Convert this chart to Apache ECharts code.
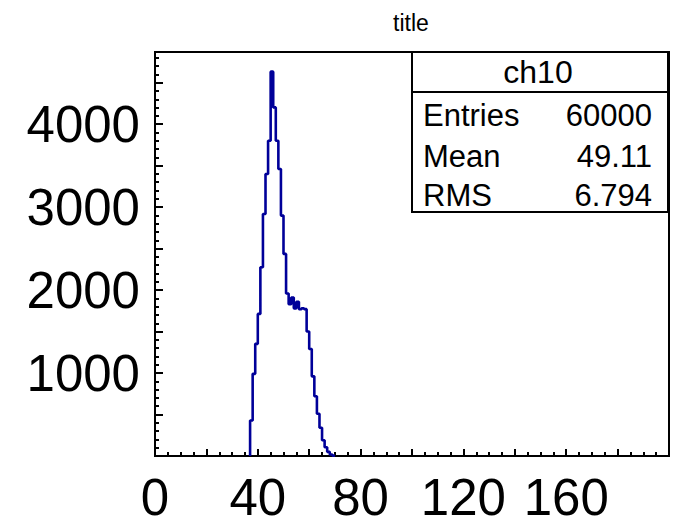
<!DOCTYPE html>
<html><head><meta charset="utf-8">
<script src="https://cdn.jsdelivr.net/npm/echarts@6/dist/echarts.min.js"></script>
<style>html,body{margin:0;padding:0;background:#fff}#c{width:687px;height:527px}</style>
</head><body><div id="c"></div>
<script>
// ---- data ----
const chartTitle = 'title';
const histName = 'ch10';
const firstBin = 37;      // low edge of first non-empty bin
const binWidth = 1;
const counts = [428, 990, 1352, 1713, 2275, 2918, 3400, 3801, 4633,
  4202, 3801, 3460, 2898, 2436, 1958, 1830, 1910, 1780, 1860, 1770, 1780, 1770,
  1500, 1290, 960, 720, 510, 340, 190, 105, 50, 18, 5];
const xLabelValues = [0, 40, 80, 120, 160];
const yLabelValues = [1000, 2000, 3000, 4000];
const statLabels = ['Entries', 'Mean', 'RMS'];
const statValues = ['60000', '49.11', '6.794'];

// ---- build step points ----
const pts = [[firstBin, 0]];
counts.forEach((c, i) => pts.push([firstBin + i * binWidth, c]));
pts.push([firstBin + counts.length * binWidth, 0]);

const FONT = '"Liberation Sans", Arial, Helvetica, sans-serif';
const chart = echarts.init(document.getElementById('c'), null, {renderer: 'svg'});

const rowY = [115, 156, 195];
const graphics = [
  {type: 'text', x: 411, y: 23, z: 100,
   style: {text: chartTitle, fontSize: 23, fontFamily: FONT, fill: '#000',
           align: 'center', textAlign: 'center', verticalAlign: 'middle', textVerticalAlign: 'middle'}},
  {type: 'rect', z: 100, shape: {x: 412, y: 52, width: 256, height: 160},
   style: {fill: '#fff', stroke: '#000', lineWidth: 2}},
  {type: 'line', z: 101, shape: {x1: 412, y1: 92, x2: 668, y2: 92},
   style: {stroke: '#000', lineWidth: 2}},
  {type: 'text', x: 538, y: 72, z: 102,
   style: {text: histName, fontSize: 32, fontFamily: FONT, fill: '#000',
           align: 'center', textAlign: 'center', verticalAlign: 'middle', textVerticalAlign: 'middle'}}
];
statLabels.forEach((lab, i) => {
  graphics.push({type: 'text', x: 423, y: rowY[i], z: 102,
    style: {text: lab, fontSize: 31, fontFamily: FONT, fill: '#000',
            align: 'left', textAlign: 'left', verticalAlign: 'middle', textVerticalAlign: 'middle'}});
  graphics.push({type: 'text', x: 652, y: rowY[i], z: 102,
    style: {text: statValues[i], fontSize: 31, fontFamily: FONT, fill: '#000',
            align: 'right', textAlign: 'right', verticalAlign: 'middle', textVerticalAlign: 'middle'}});
});

chart.setOption({
  animation: false,
  backgroundColor: '#fff',
  grid: {left: 155, right: 18, top: 52, bottom: 71, show: true,
         borderColor: '#000', borderWidth: 2, backgroundColor: 'transparent'},
  xAxis: {
    type: 'value', min: 0, max: 200, interval: 20,
    axisLine: {show: true, onZero: false, lineStyle: {color: '#000', width: 2}},
    axisTick: {show: true, inside: true, length: 7, lineStyle: {color: '#000', width: 2}},
    minorTick: {show: true, splitNumber: 4, length: 4, lineStyle: {color: '#000', width: 2}},
    splitLine: {show: false},
    axisLabel: {
      margin: 21, fontSize: 51, lineHeight: 40, fontFamily: FONT, color: '#000',
      formatter: v => (xLabelValues.indexOf(v) >= 0 ? String(v) : '')
    }
  },
  yAxis: {
    type: 'value', min: 0, max: 4870, interval: 500,
    axisLine: {show: true, onZero: false, lineStyle: {color: '#000', width: 2}},
    axisTick: {show: true, inside: true, length: 8, lineStyle: {color: '#000', width: 2}},
    minorTick: {show: true, splitNumber: 5, length: 4, lineStyle: {color: '#000', width: 2}},
    splitLine: {show: false},
    axisLabel: {
      margin: 15, fontSize: 51, lineHeight: 40, fontFamily: FONT, color: '#000', padding: [9, 0, 0, 0],
      formatter: v => (yLabelValues.indexOf(v) >= 0 ? String(v) : '')
    }
  },
  series: [{
    type: 'line', step: 'end', data: pts, symbol: 'none',
    lineStyle: {color: '#000099', width: 2.6}, z: 5
  }],
  graphic: graphics
});
</script></body></html>
